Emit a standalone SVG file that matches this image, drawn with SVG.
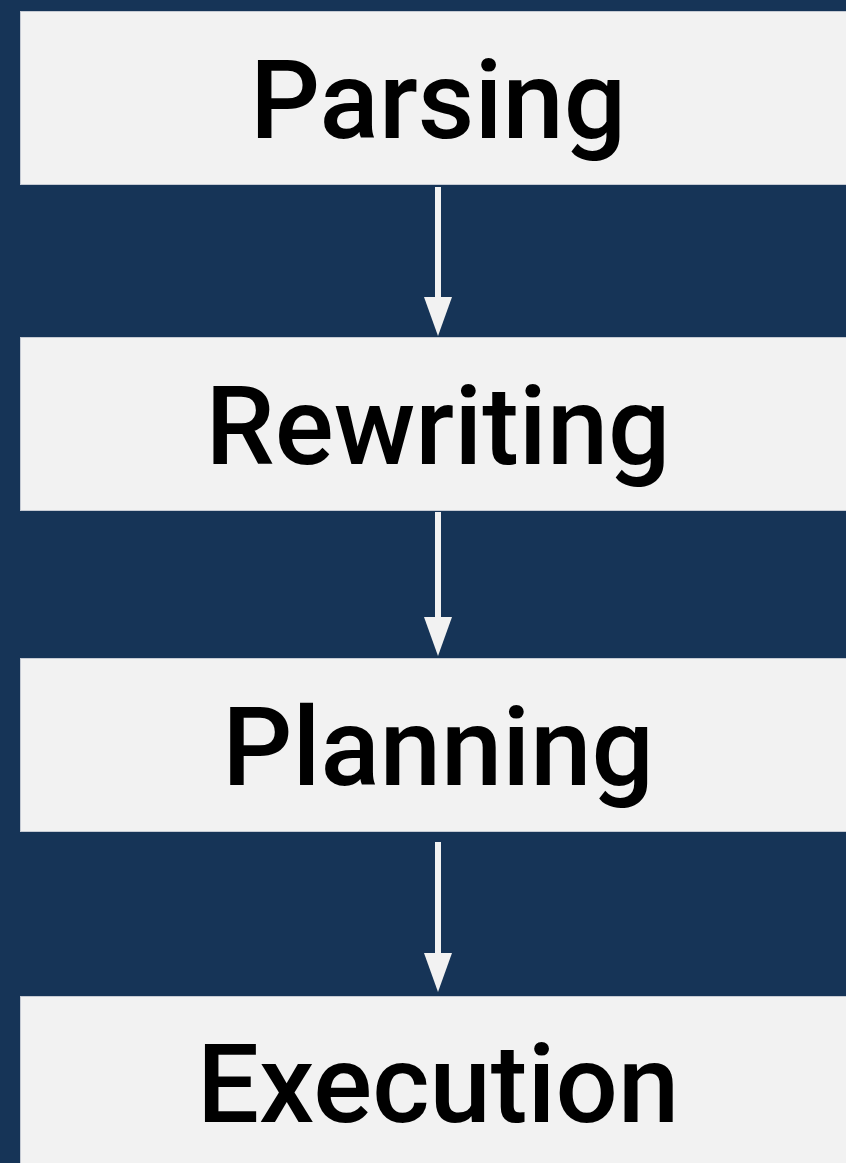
<svg xmlns="http://www.w3.org/2000/svg" width="846" height="1163" viewBox="0 0 846 1163">
  <style>
    .stage rect { fill: #f2f2f2; stroke: #c5cad3; stroke-width: 1; }
    .stage text { font-family: Roboto, "Liberation Sans", sans-serif; font-size: 110px; font-weight: 500; fill: #000; text-anchor: middle; }
    .flow line { stroke: #f2f2f2; stroke-width: 6; }
    .flow path { fill: #f2f2f2; }
  </style>
  <rect x="0" y="0" width="846" height="1163" fill="#163457"/>

  <g id="parsing" class="stage">
    <rect x="20.5" y="11.5" width="840" height="173"/>
    <text x="438" y="138">Parsing</text>
  </g>
  <g id="rewriting" class="stage">
    <rect x="20.5" y="337.5" width="840" height="173"/>
    <text x="438" y="464">Rewriting</text>
  </g>
  <g id="planning" class="stage">
    <rect x="20.5" y="658.5" width="840" height="173"/>
    <text x="438" y="785">Planning</text>
  </g>
  <g id="execution" class="stage">
    <rect x="20.5" y="996.5" width="840" height="180"/>
    <text x="438" y="1122">Execution</text>
  </g>

  <g id="connectors" class="flow">
    <line x1="438" y1="187" x2="438" y2="300"/>
    <path d="M424 297 L452 297 L438 336 Z"/>
    <line x1="438" y1="512" x2="438" y2="620"/>
    <path d="M424 617 L452 617 L438 656 Z"/>
    <line x1="438" y1="842" x2="438" y2="956"/>
    <path d="M424 953 L452 953 L438 992 Z"/>
  </g>
</svg>
